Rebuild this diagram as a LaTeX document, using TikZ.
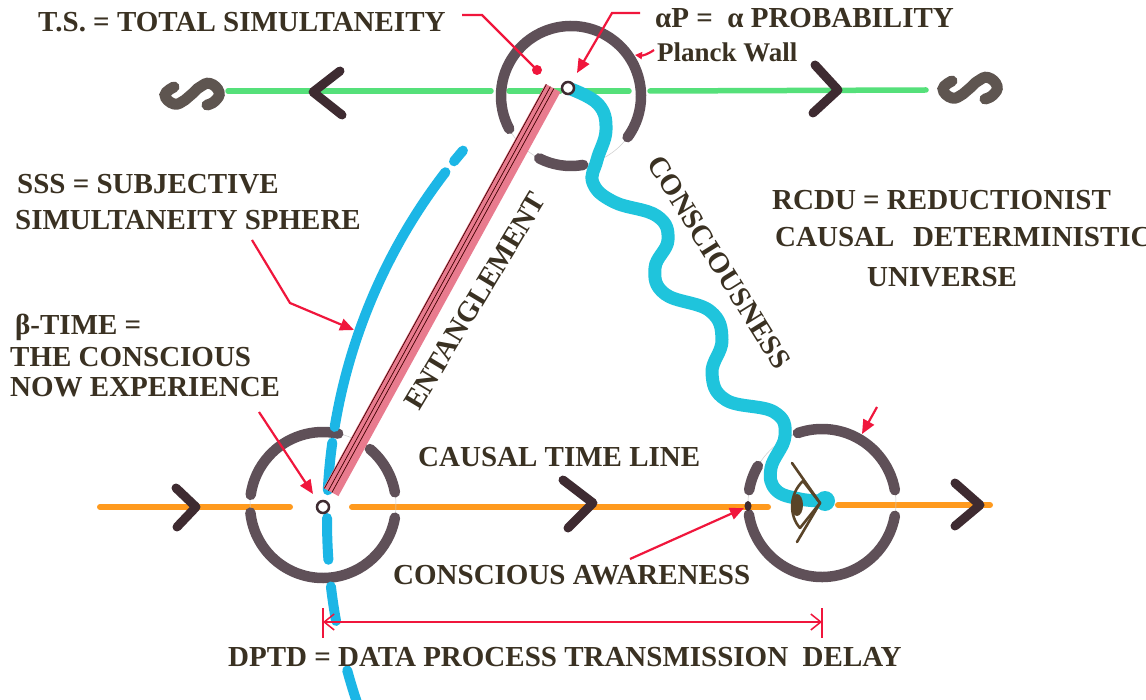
\documentclass[tikz,border=0pt]{standalone}
\usepackage{fontspec}
\setmainfont{Liberation Serif}
\usetikzlibrary{arrows.meta}
\definecolor{txt}{HTML}{3A3122}
\definecolor{wallc}{HTML}{5F5058}
\definecolor{chev}{HTML}{3E2B31}
\definecolor{grn}{HTML}{55E07A}
\definecolor{orng}{HTML}{FF9A1E}
\definecolor{pnk}{HTML}{E87B8E}
\definecolor{redc}{HTML}{F0163C}
\definecolor{cyn}{HTML}{1FC4DC}
\definecolor{sssc}{HTML}{1CB6E6}
\definecolor{sglyph}{HTML}{5E5550}
\definecolor{eyec}{HTML}{5A4428}
\begin{document}
\begin{tikzpicture}[x=1pt,y=1pt,
  lbl/.style={font=\bfseries\fontsize{29}{30}\selectfont, text=txt, inner sep=0pt, anchor=west},
  wall/.style={draw=wallc, line width=10.5pt, line cap=round},
  pencil/.style={draw=gray!40, line width=0.5pt},
  chevron/.style={draw=chev, line width=9pt, line cap=round, line join=round},
  greenline/.style={draw=grn, line width=5.5pt, line cap=round},
  orangeline/.style={draw=orng, line width=6pt, line cap=round},
  redline/.style={draw=redc, line width=2.2pt},
  redarrow/.style={redline, -{Triangle[length=14pt,width=12pt]}},
  sss/.style={draw=sssc, line width=10pt, line cap=round},
  cons/.style={draw=cyn, line width=13pt, line cap=round, line join=round},
  sglyphstyle/.style={draw=sglyph, line width=11pt, line cap=round},
  smallring/.style={draw=chev, line width=2.5pt, fill=white},
  entline/.style={draw=black!75!red, line width=0.7pt},
  eyeline/.style={draw=eyec, line width=2.6pt, line cap=round, line join=round},
  sletter/.pic={\draw[sglyphstyle] plot[smooth, tension=0.8] coordinates {(-18,7) (-27,-1) (-18,-10) (-7,-6) (0,0) (8,7) (18,10.5) (27,2) (23,-7) (15,-11)};},
]
\useasboundingbox (0,0) rectangle (1146,-700);
\clip (0,0) rectangle (1146,-700);
\fill[white] (0,0) rectangle (1146,-700);

% key coordinates
\coordinate (ct) at (571,-96);
\coordinate (cl) at (323,-505);
\coordinate (cr) at (822,-503);
\coordinate (sc) at (897,-520);
\coordinate (ap) at (568,-88);
\coordinate (bt) at (323,-507);

% ---------- green S line ----------
\coordinate (g1) at (228,-91); \coordinate (g2) at (491,-91);
\coordinate (g3) at (509,-91); \coordinate (g4) at (560,-91);
\coordinate (g5) at (582,-91); \coordinate (g6) at (629,-91);
\coordinate (g7) at (650,-91); \coordinate (g8) at (926,-90);
\draw[greenline] (g1) -- (g2);
\draw[greenline] (g3) -- (g4);
\draw[greenline] (g5) -- (g6);
\draw[greenline] (g7) -- (g8);
\pic at (192,-94) {sletter};
\pic at (970,-88) {sletter};
\draw[chevron] (340,-71) -- (313,-92) -- (342,-115);
\draw[chevron] (815,-65) -- (838,-90) -- (813,-113);

% ---------- orange causal time line ----------
\coordinate (o1) at (100,-507); \coordinate (o2) at (290,-507);
\coordinate (o3) at (352,-507); \coordinate (o4) at (768,-507);
\coordinate (o5) at (838,-505); \coordinate (o6) at (990,-505);
\draw[orangeline] (o1) -- (o2);
\draw[orangeline] (o3) -- (o4);
\draw[orangeline] (o5) -- (o6);
\draw[chevron] (176,-488) -- (196,-507) -- (177,-527);
\draw[chevron] (563,-480) -- (593,-503) -- (568,-528);
\draw[chevron] (955,-483) -- (980,-505) -- (955,-526);

% ---------- pencil guide circles ----------
\draw[pencil] (ct) circle (70);
\draw[pencil] (cl) circle (73);
\draw[pencil] (cr) circle (74);

% ---------- walls ----------
\draw[wall] (ct) ++(-36:70pt) arc[start angle=-36, end angle=208, radius=70pt];
\draw[wall] (ct) ++(243:70pt) arc[start angle=243, end angle=280, radius=70pt];

\draw[wall] (cl) ++(78:73pt) arc[start angle=78, end angle=172, radius=73pt];
\draw[wall] (cl) ++(10:73pt) arc[start angle=10, end angle=50, radius=73pt];
\draw[wall] (cl) ++(186:73pt) arc[start angle=186, end angle=350, radius=73pt];

\draw[wall] (cr) ++(10:74pt) arc[start angle=10, end angle=109, radius=74pt];
\draw[wall] (cr) ++(150:74pt) arc[start angle=150, end angle=170, radius=74pt];
\draw[wall] (cr) ++(189:74pt) arc[start angle=189, end angle=350, radius=74pt];

% ---------- SSS arc (blue, dashed by hand) ----------
\draw[sss] (sc) ++(139.6:570pt) arc[start angle=139.6, end angle=141.0, radius=570pt];
\draw[sss] (sc) ++(142.4:570pt) arc[start angle=142.4, end angle=170.6, radius=570pt];
\draw[sss] (sc) ++(172.2:570pt) arc[start angle=172.2, end angle=177.0, radius=570pt];
\draw[sss] (sc) ++(179.8:570pt) arc[start angle=179.8, end angle=184.0, radius=570pt];
\draw[sss] (sc) ++(186.7:570pt) arc[start angle=186.7, end angle=190.2, radius=570pt];
\draw[sss] (sc) ++(195.3:570pt) arc[start angle=195.3, end angle=199.0, radius=570pt];

% ---------- entanglement band ----------
\coordinate (e1) at (553,-88);
\coordinate (e2) at (331,-492);
\draw[draw=pnk, line width=17pt] (e1) -- (e2);
\draw[entline] ([shift={(-6.6,3.6)}]e1) -- ([shift={(-6.6,3.6)}]e2);
\draw[entline] ([shift={(-2.6,1.4)}]e1) -- ([shift={(-2.6,1.4)}]e2);
\draw[entline] ([shift={(0.9,-0.5)}]e1) -- ([shift={(0.9,-0.5)}]e2);

% ---------- consciousness wave ----------
\coordinate (eyeb) at (825,-501);
\draw[cons] plot[smooth, tension=0.7] coordinates {(ap) (598,-104) (606,-130) (597,-160) (593,-183) (614,-202) (657,-216) (668,-240) (655,-268) (665,-294) (710,-311) (722,-340) (712,-373) (726,-400) (774,-412) (785,-436) (771,-468) (776,-490) (800,-499) (eyeb)};
\fill[cyn] (eyeb) circle (10);

% ---------- eye ----------
\draw[eyeline] (792,-463) -- (820,-503) -- (797,-542);
\draw[eyeline] (803,-481) -- (820,-503) -- (800,-528);
\draw[eyeline] (803,-481) .. controls (789,-494) and (789,-516) .. (800,-528);
\fill[eyec] (797,-505) ellipse (6 and 11);

% ---------- small rings and dot ----------
\draw[smallring] (ap) circle (6);
\draw[smallring] (bt) circle (6);
\coordinate (cadot) at (748,-506);
\fill[chev] (cadot) ellipse (3.5 and 5);

% ---------- labels ----------
\node[lbl] (ts) at (38,-22) {T.S. = TOTAL SIMULTANEITY};
\node[lbl] (apl) at (655,-18) {αP =\ \ α PROBABILITY};
\node[lbl, font=\bfseries\fontsize{27}{28}\selectfont] (pw) at (657,-52) {Planck Wall};
\node[lbl] (sss1) at (17,-184) {SSS = SUBJECTIVE};
\node[lbl] (sss2) at (15,-220) {SIMULTANEITY SPHERE};
\node[lbl] (bt1) at (15,-327) {β-TIME =};
\node[lbl] (bt2) at (10,-357) {THE CONSCIOUS};
\node[lbl] (bt3) at (10,-387) {NOW EXPERIENCE};
\node[lbl] (rc1) at (772,-200) {RCDU = REDUCTIONIST};
\node[lbl] (rc2) at (775,-237) {CAUSAL};
\node[lbl] (rc3) at (913,-237) {DETERMINISTIC};
\node[lbl] (rc4) at (867,-277) {UNIVERSE};
\node[lbl] (ctl) at (418,-457) {CAUSAL TIME LINE};
\node[lbl] (caw) at (393,-575) {CONSCIOUS AWARENESS};
\node[lbl] (dptd) at (228,-657) {DPTD = DATA PROCESS TRANSMISSION\ \ DELAY};
\node[lbl, anchor=center, rotate=59] (ent) at (475,-301) {ENTANGLEMENT};
\node[lbl, anchor=center, rotate=-58] (con) at (719,-262) {CONSCIOUSNESS};

% ---------- red pointers ----------
\coordinate (tsa) at (462,-15); \coordinate (tsb) at (482,-15); \coordinate (tsd) at (537,-70);
\draw[redline] (tsa) -- (tsb) -- (tsd);
\fill[redc] (tsd) circle (5);

\coordinate (apa) at (640,-13); \coordinate (apb) at (612,-13); \coordinate (apt) at (577,-73);
\draw[redarrow] (apa) -- (apb) -- (apt);

\coordinate (pwa) at (654,-50); \coordinate (pwt) at (635,-55);
\draw[redline, -{Triangle[length=7pt,width=7pt]}] (pwa) to[bend left=20] (pwt);

\coordinate (ssa) at (252,-240); \coordinate (ssb) at (290,-303); \coordinate (sst) at (354,-330);
\draw[redarrow] (ssa) -- (ssb) -- (sst);

\coordinate (bta) at (259,-412); \coordinate (btt) at (313,-494);
\draw[redarrow] (bta) -- (btt);

\coordinate (caa) at (630,-559);
\draw[redarrow] (caa) -- ([shift={(-4,-2)}]cadot);

\coordinate (eya) at (877,-407); \coordinate (eyt) at (862,-434);
\draw[redarrow] (eya) -- (eyt);

\coordinate (dl) at (323,-622); \coordinate (dr) at (822,-622);
\draw[redc, line width=1.5pt, {Straight Barb[length=10pt,width=16pt]}-{Straight Barb[length=10pt,width=16pt]}] (dl) -- (dr);
\draw[redc, line width=1.5pt] ([yshift=14]dl) -- ([yshift=-16]dl);
\draw[redc, line width=1.5pt] ([yshift=14]dr) -- ([yshift=-16]dr);
\end{tikzpicture}
\end{document}
